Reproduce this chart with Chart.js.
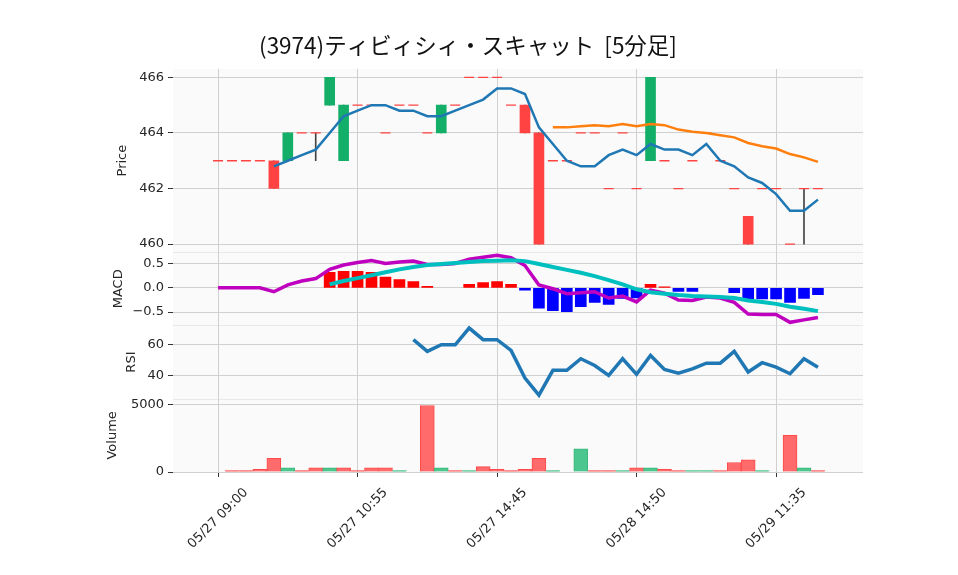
<!DOCTYPE html>
<html>
<head>
<meta charset="utf-8">
<script src="https://cdn.jsdelivr.net/npm/chart.js@4.4.1/dist/chart.umd.min.js"></script>
<style>
  html, body { margin: 0; padding: 0; background: #fff; }
  #wrap { width: 958px; height: 575px; }
</style>
</head>
<body>
<div id="wrap"><canvas id="stockChart" width="958" height="575"></canvas></div>
<script>
// タイトルと時間軸ラベル
const chartTitle = '(3974)ティビィシィ・スキャット  [5分足]';
const xTickPos = [0, 10, 20, 30, 40];
const xTickLabels = ['05/27 09:00', '05/27 10:55', '05/27 14:45', '05/28 14:50', '05/29 11:35'];

// 5分足 OHLC (44本)
const opens  = [463,463,463,463,463,463,464,464,465,463,465,465,464,465,465,464,464,465,466,466,466,465,465,464,463,463,464,464,462,464,462,463,463,462,463,464,463,462,461,462,462,460,462,462];
const highs  = [463,463,463,463,463,464,464,464,466,465,465,465,464,465,465,464,465,465,466,466,466,465,465,464,463,463,464,464,462,464,462,466,463,462,463,464,463,462,461,462,462,460,462,462];
const lows   = [463,463,463,463,462,463,464,463,465,463,465,465,464,465,465,464,464,465,466,466,466,465,464,460,463,463,464,464,462,464,462,463,463,462,463,464,463,462,460,462,462,460,460,462];
const closes = [463,463,463,463,462,464,464,464,466,465,465,465,464,465,465,464,465,465,466,466,466,465,464,460,463,463,464,464,462,464,462,466,463,462,463,464,463,462,460,462,462,460,462,462];
const volumes = [0,100,100,200,1000,300,100,300,300,300,100,300,300,100,0,4900,300,100,100,400,200,100,200,1000,100,0,1700,100,100,100,300,300,200,100,100,100,100,700,900,100,0,2700,300,100];

// 移動平均 (5, 25)
const ma5 = [null,null,null,null,462.8,463.0,463.2,463.4,464.0,464.6,464.8,465.0,465.0,464.8,464.8,464.6,464.6,464.8,465.0,465.2,465.6,465.6,465.4,464.2,463.6,463.0,462.8,462.8,463.2,463.4,463.2,463.6,463.4,463.4,463.2,463.6,463.0,462.8,462.4,462.2,461.8,461.2,461.2,461.6];
const ma25 = [null,null,null,null,null,null,null,null,null,null,null,null,null,null,null,null,null,null,null,null,null,null,null,null,464.20,464.20,464.24,464.28,464.24,464.32,464.24,464.32,464.28,464.12,464.04,464.00,463.92,463.84,463.64,463.52,463.44,463.24,463.12,462.96];

// MACD
const macdLine = [0,0,0,0,-0.08,0.06,0.14,0.19,0.38,0.47,0.52,0.56,0.50,0.53,0.55,0.48,0.48,0.50,0.59,0.63,0.67,0.62,0.46,0.06,-0.02,-0.12,-0.10,-0.08,-0.21,-0.17,-0.29,-0.05,-0.11,-0.25,-0.26,-0.19,-0.21,-0.30,-0.54,-0.55,-0.55,-0.71,-0.66,-0.61];
const signalLine = [null,null,null,null,null,null,null,null,0.07,0.14,0.20,0.26,0.32,0.38,0.43,0.47,0.49,0.51,0.53,0.55,0.56,0.57,0.55,0.49,0.43,0.37,0.31,0.24,0.16,0.07,-0.03,-0.09,-0.12,-0.15,-0.17,-0.18,-0.19,-0.21,-0.26,-0.29,-0.33,-0.39,-0.43,-0.48];
const macdHist = [null,null,null,null,null,null,null,null,0.32,0.34,0.34,0.32,0.22,0.17,0.13,0.03,0,0,0.07,0.11,0.13,0.07,-0.05,-0.42,-0.47,-0.49,-0.39,-0.30,-0.34,-0.22,-0.21,0.07,0.02,-0.075,-0.075,0,0,-0.10,-0.23,-0.23,-0.23,-0.30,-0.22,-0.14];

// RSI
const rsi = [null,null,null,null,null,null,null,null,null,null,null,null,null,null,63.3,55.7,60.0,60.0,70.9,63.3,63.3,56.3,38.3,27.2,43.3,43.3,50.9,46.5,40.0,50.9,40.7,53.0,43.9,41.5,44.3,48.0,48.0,55.7,42.2,48.3,45.4,41.1,50.9,45.4];

// 軸の目盛り
const priceTicks = [460, 462, 464, 466];
const macdTicks = [-0.5, 0, 0.5];
const rsiTicks = [40, 60];
const volTicks = [0, 5000];

const UP = '#13ae68', DOWN = '#ff4343';
const GRID = '#d0d0d0';
const FONT = { family: 'DejaVu Sans', size: 13 };

function pts(arr) {
    return arr.map((v, i) => ({ x: i, y: v })).filter(p => p.y !== null);
}

const bodies = [], bodyColors = [], wicks = [], dojis = [];
closes.forEach((c, i) => {
    if (opens[i] !== c) {
        bodies.push({ x: i, y: [opens[i], c] });
        bodyColors.push(c > opens[i] ? UP : DOWN);
    } else {
        dojis.push({ x: i, y: c });
    }
    if (highs[i] > lows[i]) wicks.push({ x: i, y: [lows[i], highs[i]] });
});

const volUp = volumes.map((v, i) => i > 0 && closes[i] > closes[i - 1]);
// 0 の棒は描かない
const histPts = pts(macdHist).filter(p => p.y !== 0);

function fixedTicks(list) {
    return scale => { scale.ticks = list.map(v => ({ value: v })); };
}

function yAxis(min, max, weight, ticks, label, titlePad, fmt) {
    return {
        type: 'linear',
        position: 'left',
        stack: 'panels',
        stackWeight: weight,
        min: min,
        max: max,
        beginAtZero: false,
        afterBuildTicks: fixedTicks(ticks),
        afterFit: scale => { scale.width = 173; },
        border: { display: false },
        grid: { color: GRID, lineWidth: 1, tickColor: '#333', tickLength: 5 },
        ticks: { font: FONT, color: '#262626', padding: 4, callback: fmt || (v => v) },
        title: { display: true, text: label, font: FONT, color: '#262626', padding: { top: titlePad, bottom: 0 } }
    };
}

// パネル背景と区切り線、タイトル
const panelPlugin = {
    id: 'panels',
    beforeDraw(chart) {
        const { ctx, chartArea } = chart;
        ctx.save();
        ctx.fillStyle = '#fafafa';
        ctx.fillRect(chartArea.left, chartArea.top, chartArea.width, chartArea.height);
        ctx.strokeStyle = '#e8e8e8';
        ctx.lineWidth = 1;
        ['yMacd', 'yRsi', 'yVol'].forEach(id => {
            const s = chart.scales[id];
            ctx.beginPath();
            ctx.moveTo(chartArea.left, Math.round(s.top) + 0.5);
            ctx.lineTo(chartArea.right, Math.round(s.top) + 0.5);
            ctx.stroke();
        });
        ctx.restore();
    },
    afterDraw(chart) {
        const ctx = chart.ctx;
        ctx.save();
        ctx.font = '22.5px "Noto Sans CJK JP"';
        ctx.fillStyle = '#111';
        ctx.textAlign = 'center';
        ctx.textBaseline = 'middle';
        ctx.fillText(chartTitle, 468, 45);
        ctx.restore();
    }
};

new Chart(document.getElementById('stockChart'), {
    data: {
        datasets: [
            { type: 'line', label: 'MA5', data: pts(ma5), yAxisID: 'y', borderColor: '#1f77b4', borderWidth: 2.5, pointRadius: 0, order: 0 },
            { type: 'line', label: 'MA25', data: pts(ma25), yAxisID: 'y', borderColor: '#ff7f0e', borderWidth: 2.5, pointRadius: 0, order: 0 },
            { type: 'scatter', label: 'doji', data: dojis, yAxisID: 'y', pointStyle: 'line', pointRadius: 5, borderColor: DOWN, borderWidth: 1.3, order: 1 },
            { type: 'bar', label: 'body', data: bodies, yAxisID: 'y', backgroundColor: bodyColors, barThickness: 10, grouped: false, order: 2 },
            { type: 'bar', label: 'wick', data: wicks, yAxisID: 'y', backgroundColor: '#444', barThickness: 1, grouped: false, order: 3 },
            { type: 'line', label: 'MACD', data: pts(macdLine), yAxisID: 'yMacd', borderColor: '#bf00bf', borderWidth: 3.5, pointRadius: 0, order: 1 },
            { type: 'line', label: 'Signal', data: pts(signalLine), yAxisID: 'yMacd', borderColor: '#00bfbf', borderWidth: 4, pointRadius: 0, order: 0 },
            { type: 'bar', label: 'Hist', data: histPts, yAxisID: 'yMacd', backgroundColor: histPts.map(p => p.y >= 0 ? '#ff0000' : '#0000ff'), barThickness: 11, grouped: false, order: 2 },
            { type: 'line', label: 'RSI', data: pts(rsi), yAxisID: 'yRsi', borderColor: '#1f77b4', borderWidth: 3.5, pointRadius: 0, order: 0 },
            { type: 'bar', label: 'Volume', data: pts(volumes), yAxisID: 'yVol', backgroundColor: volUp.map(u => u ? '#4cc68f' : '#ff6b6b'), borderColor: volUp.map(u => u ? '#3bb87c' : '#ff4a4a'), borderWidth: 1, barThickness: 14, grouped: false, order: 0 }
        ]
    },
    options: {
        responsive: false,
        animation: false,
        layout: { padding: { top: 69, right: 95, left: 0, bottom: 0 } },
        plugins: { legend: { display: false }, tooltip: { enabled: false } },
        scales: {
            x: {
                type: 'linear',
                min: -3.23,
                max: 46.23,
                offset: false,
                afterBuildTicks: fixedTicks(xTickPos),
                afterFit: scale => { scale.height = 103; },
                border: { display: false },
                grid: { offset: false, color: GRID, lineWidth: 1, tickColor: '#333', tickLength: 5 },
                ticks: {
                    autoSkip: false, minRotation: 45, maxRotation: 45, labelOffset: 28, padding: 8,
                    font: FONT, color: '#262626',
                    callback: v => xTickLabels[xTickPos.indexOf(v)]
                }
            },
            // 積み上げ軸は後に定義したものが上に来る
            yVol: yAxis(0, 5400, 1, volTicks, 'Volume', 105),
            yRsi: yAxis(24.8, 72.6, 1, rsiTicks, 'RSI', 124),
            yMacd: yAxis(-0.775, 0.734, 1, macdTicks, 'MACD', 111, v => v.toFixed(1).replace('-', '\u2212')),
            y: yAxis(459.71, 466.3, 2.5, priceTicks, 'Price', 115)
        }
    },
    plugins: [panelPlugin]
});
</script>
</body>
</html>
